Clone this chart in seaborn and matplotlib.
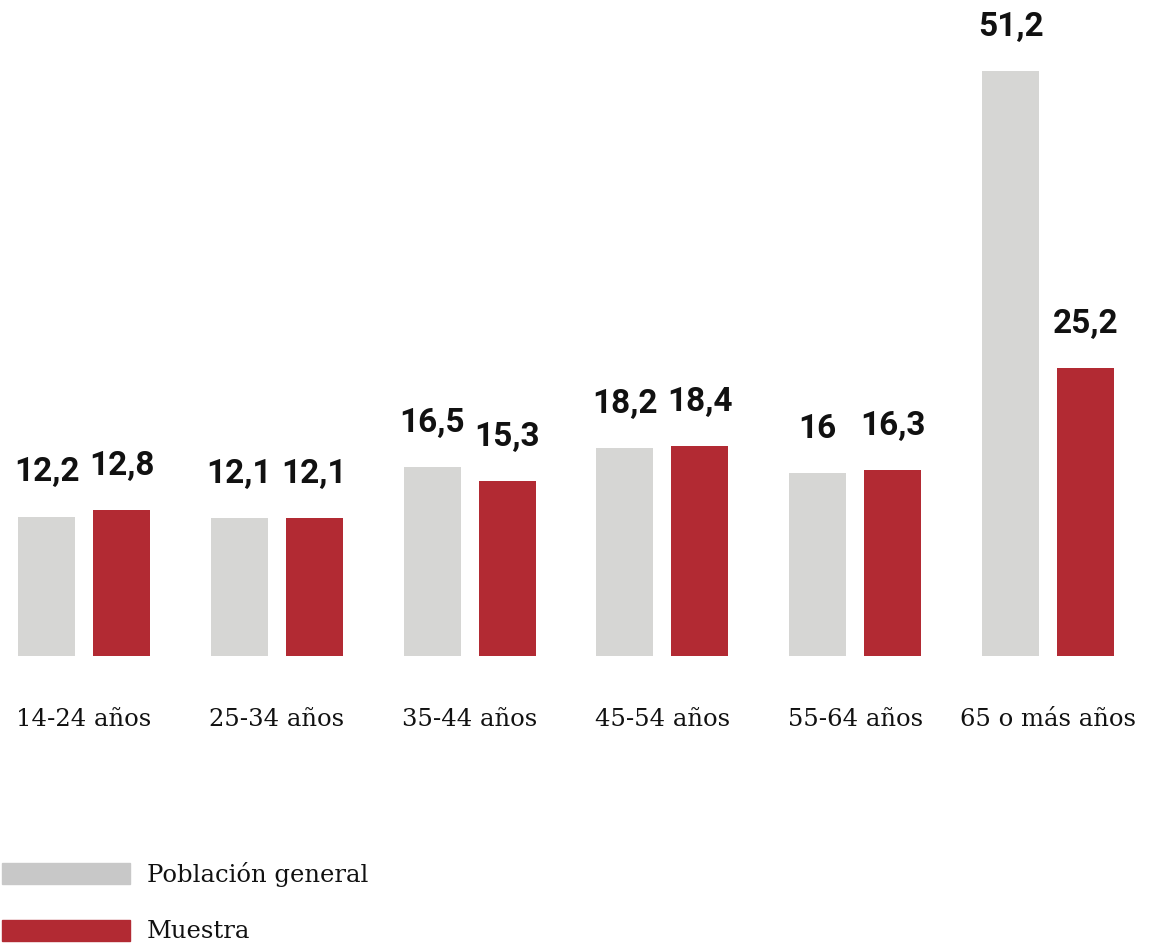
import seaborn as sns
import pandas as pd
import matplotlib.pyplot as plt
from matplotlib.patches import Rectangle

categorias = ["14-24 años", "25-34 años", "35-44 años", "45-54 años", "55-64 años", "65 o más años"]
poblacion = [12.2, 12.1, 16.5, 18.2, 16.0, 51.2]
muestra = [12.8, 12.1, 15.3, 18.4, 16.3, 25.2]
series = ["Población general", "Muestra"]

color_gris = "#d6d6d4"
color_rojo = "#b22a33"

df = pd.DataFrame({
    "grupo": categorias * 2,
    "serie": [series[0]] * len(categorias) + [series[1]] * len(categorias),
    "valor": poblacion + muestra,
})

sns.set_style("white")
fig = plt.figure(figsize=(11.5, 9.45), dpi=100)
ax = fig.add_axes([0, 0.3048, 1, 0.6952])

sns.barplot(data=df, x="grupo", y="valor", hue="serie", order=categorias, hue_order=series,
            palette=[color_gris, color_rojo], width=0.778, gap=0.24, saturation=1,
            linewidth=0, legend=False, ax=ax)

ax.set_xlim(-0.436, 5.529)
ax.set_ylim(0, 57.5)
ax.set_xlabel("")
ax.set_ylabel("")
ax.set_yticks([])
sns.despine(ax=ax, left=True, bottom=True)
ax.tick_params(axis="x", length=0, pad=37)
for t in ax.get_xticklabels():
    t.set_fontfamily("DejaVu Serif")
    t.set_fontsize(17.5)
    t.set_color("#111111")

def fmt(v):
    return f"{v:g}".replace(".", ",")

for cont, vals in zip(ax.containers, [poblacion, muestra]):
    ax.bar_label(cont, labels=[fmt(v) for v in vals], padding=21,
                 fontfamily="Roboto", fontweight="bold", fontsize=24, color="#111111")

# leyenda
fig.patches.append(Rectangle((2 / 1150, 1 - 885 / 945), 128 / 1150, 21 / 945,
                             transform=fig.transFigure, color="#c8c8c8", figure=fig))
fig.patches.append(Rectangle((2 / 1150, 1 - 942 / 945), 128 / 1150, 21 / 945,
                             transform=fig.transFigure, color=color_rojo, figure=fig))
fig.text(147 / 1150, 1 - 875 / 945, series[0], fontfamily="DejaVu Serif", fontsize=17.5,
         va="center", color="#111111")
fig.text(147 / 1150, 1 - 932 / 945, series[1], fontfamily="DejaVu Serif", fontsize=17.5,
         va="center", color="#111111")

fig.savefig("out.png", dpi=100)
